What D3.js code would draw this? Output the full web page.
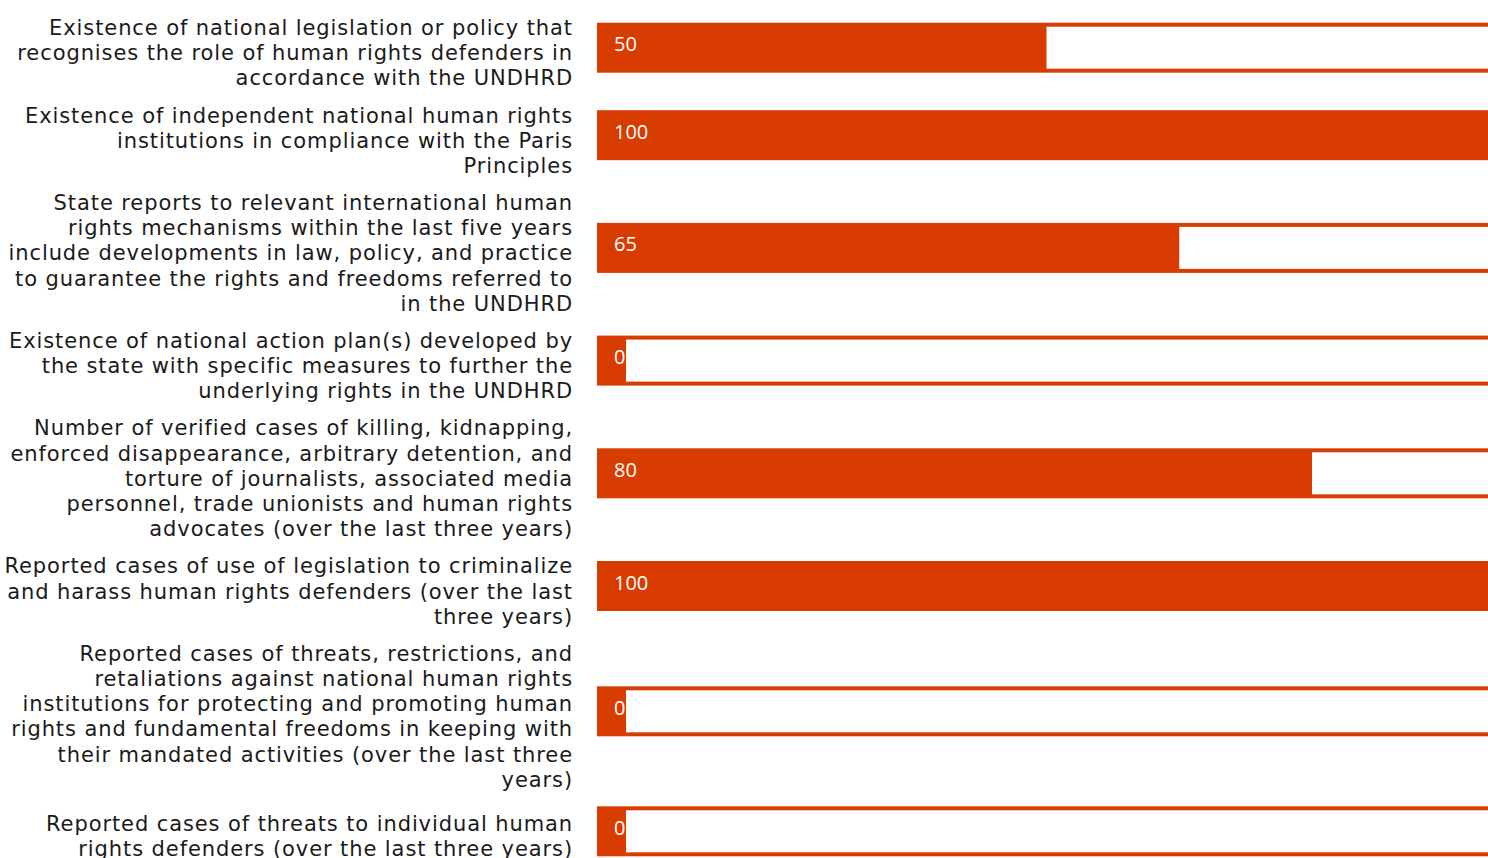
<!DOCTYPE html>
<html>
<head>
<meta charset="utf-8">
<script src="https://cdn.jsdelivr.net/npm/d3@7"></script>
<style>
  body { margin: 0; background: #fff; overflow: hidden; }
  svg { display: block; }
  .label { font-family: "DejaVu Sans", sans-serif; font-size: 21px; fill: #1a1a1a; }
  .value { font-family: "Open Sans", sans-serif; font-size: 20px; fill: #fff; }
</style>
</head>
<body>
<svg id="chart" width="1488" height="858"></svg>
<script>
// indicator labels, already broken into lines as in the original
const labels = [
  ["Existence of national legislation or policy that", "recognises the role of human rights defenders in", "accordance with the UNDHRD"],
  ["Existence of independent national human rights", "institutions in compliance with the Paris", "Principles"],
  ["State reports to relevant international human", "rights mechanisms within the last five years", "include developments in law, policy, and practice", "to guarantee the rights and freedoms referred to", "in the UNDHRD"],
  ["Existence of national action plan(s) developed by", "the state with specific measures to further the", "underlying rights in the UNDHRD"],
  ["Number of verified cases of killing, kidnapping,", "enforced disappearance, arbitrary detention, and", "torture of journalists, associated media", "personnel, trade unionists and human rights", "advocates (over the last three years)"],
  ["Reported cases of use of legislation to criminalize", "and harass human rights defenders (over the last", "three years)"],
  ["Reported cases of threats, restrictions, and", "retaliations against national human rights", "institutions for protecting and promoting human", "rights and fundamental freedoms in keeping with", "their mandated activities (over the last three", "years)"],
  ["Reported cases of threats to individual human", "rights defenders (over the last three years)"]
];
const values = [50, 100, 65, 0, 80, 100, 0, 0];

const width = 1488, height = 858;
const orange = '#d93c00';
const lineH = 25.2, rowGap = 11.9, startY = 15.4, minRowH = 65;
const labelRight = 573, firstLineW = 523;
const barH = 50, border = 4, minFill = 22;

const svg = d3.select('#chart');

// stack rows; a row is as tall as its label, with a minimum height
let acc = startY;
const rows = labels.map((lines, i) => {
  const textH = lines.length * lineH;
  const h = Math.max(textH, minRowH);
  const r = { lines, value: values[i], y0: acc, h, textTop: acc + (h - textH) / 2 };
  acc += h + rowGap;
  return r;
});

const x = d3.scaleLinear().domain([0, 100]).range([604, 1489]);

const row = svg.selectAll('g.row')
  .data(rows)
  .join('g')
  .attr('class', 'row');

const label = row.append('text')
  .attr('class', 'label')
  .attr('text-anchor', 'end');

label.selectAll('tspan')
  .data(d => d.lines.map((l, j) => ({ l, y: d.textTop + lineH / 2 + 7 + j * lineH })))
  .join('tspan')
  .attr('x', labelRight)
  .attr('y', d => d.y)
  .text(d => d.l);

// widen the substitute font's spacing to the original label width
const probe = label.filter((d, i) => i === 0).select('tspan').node();
const w0 = probe.getComputedTextLength();
const ls = (firstLineW - w0) / (labels[0][0].length - 1);
label.attr('letter-spacing', ls);

const barY = d => d.y0 + d.h / 2 - 5.5 - barH / 2;

// track
row.append('rect')
  .attr('x', 597)
  .attr('y', barY)
  .attr('width', width - 597 + 10)
  .attr('height', barH)
  .attr('fill', orange);

// empty part of the track
const fillEnd = d => Math.max(x(d.value), x(0) + minFill);
row.append('rect')
  .attr('x', fillEnd)
  .attr('y', d => barY(d) + border)
  .attr('width', d => Math.max(0, width + 10 - fillEnd(d)))
  .attr('height', barH - 2 * border)
  .attr('fill', '#fff');

row.append('text')
  .attr('class', 'value')
  .attr('x', 614)
  .attr('y', d => barY(d) + barH / 2 + 3.5)
  .text(d => d.value);
</script>
</body>
</html>
